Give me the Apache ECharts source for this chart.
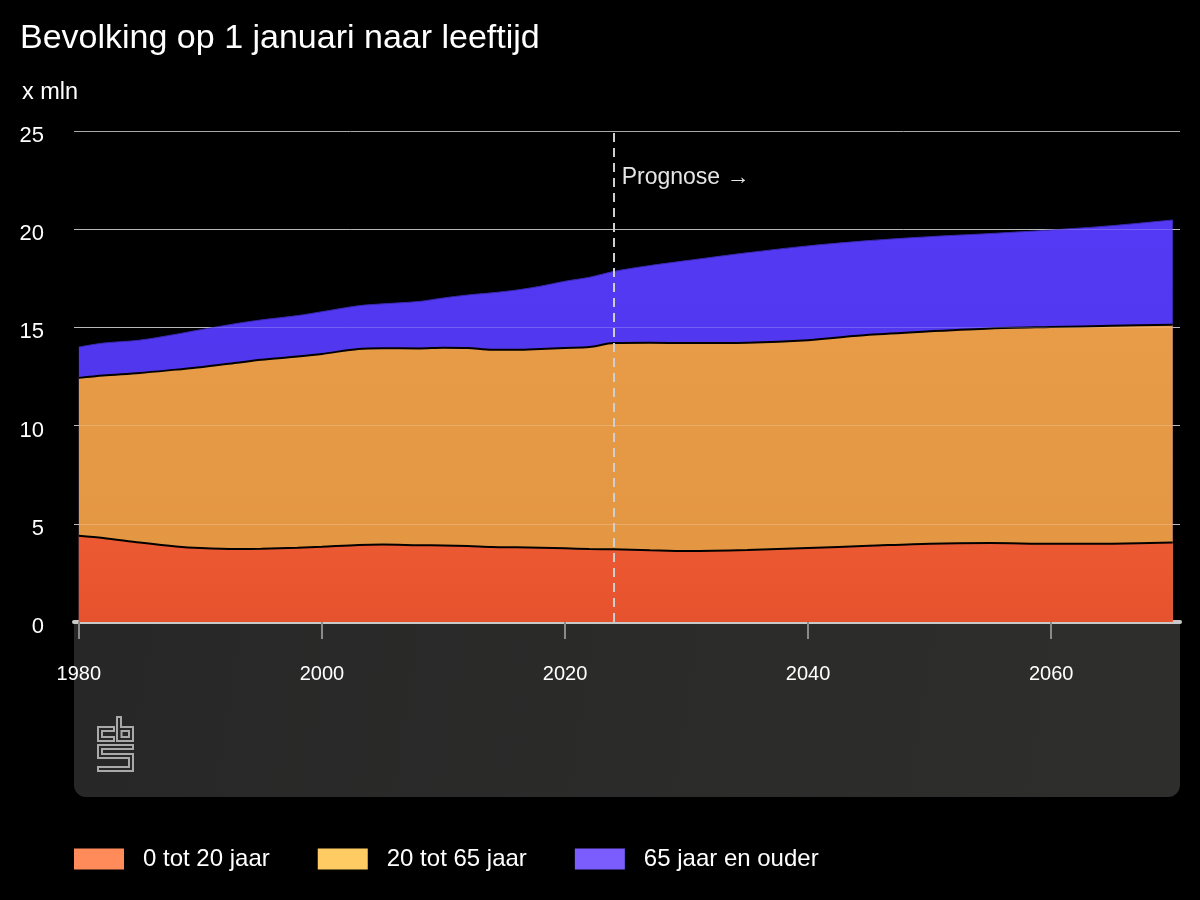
<!DOCTYPE html>
<html>
<head>
<meta charset="utf-8">
<script src="https://cdn.jsdelivr.net/npm/echarts@6/dist/echarts.min.js"></script>
<style>
html,body{margin:0;padding:0;background:#000;}
#chart{width:1200px;height:900px;}
</style>
</head>
<body>
<div id="chart"></div>
<script>
// ---- data (x mln) ----
const years = [1980,1982,1985,1988,1990,1993,1995,1998,2000,2003,2005,2008,2010,2012,2014,2016,2018,2020,2022,2024,2027,2030,2035,2040,2045,2050,2055,2060,2065,2070];
const age0to20 = [4.39,4.28,4.05,3.85,3.77,3.72,3.73,3.78,3.83,3.92,3.94,3.91,3.90,3.87,3.82,3.80,3.78,3.75,3.72,3.70,3.65,3.61,3.66,3.77,3.88,3.99,4.02,3.98,3.99,4.05];
const age20to65 = [8.04,8.27,8.63,9.00,9.20,9.48,9.62,9.74,9.82,9.98,10.00,10.02,10.07,10.08,10.04,10.06,10.12,10.20,10.28,10.50,10.57,10.59,10.56,10.58,10.74,10.81,10.93,11.04,11.09,11.09];
const age65plus = [1.57,1.65,1.67,1.80,1.91,2.00,2.03,2.08,2.15,2.20,2.26,2.39,2.53,2.70,2.90,3.04,3.20,3.40,3.55,3.65,3.93,4.20,4.58,4.80,4.80,4.82,4.83,4.94,5.10,5.33];
const seriesNames = ['0 tot 20 jaar','20 tot 65 jaar','65 jaar en ouder'];
const xTickYears = [1980,2000,2020,2040,2060];
const prognoseYear = 2024;

const FONT = '"Liberation Sans", Arial, Helvetica, sans-serif';
const chart = echarts.init(document.getElementById('chart'), null, {renderer:'canvas'});

// stacked (cumulative) tops, drawn as overlapping areas from 0
const groups = [age0to20, age20to65, age65plus];
function stackedPairs(level){
  return years.map((y,i)=>{
    let s = 0;
    for(let k=0;k<=level;k++) s += groups[k][i];
    return [y, +s.toFixed(3)];
  });
}
function grad(a,b){ return new echarts.graphic.LinearGradient(0,0,0,1,[{offset:0,color:a},{offset:1,color:b}]); }

const logoStroke = {stroke:'#a9a9a9', lineWidth:2, fill:null};
const overlay = {color:'rgba(255,255,255,0.2)', width:1, type:'solid'};

const option = {
  backgroundColor:'#000',
  animation:false,
  textStyle:{fontFamily:FONT},
  title:[
    {text:'Bevolking op 1 januari naar leeftijd', left:15, top:17, textStyle:{color:'#fff', fontSize:34, fontWeight:'normal', fontFamily:FONT}},
    {text:'x mln', left:17, top:76, textStyle:{color:'#fff', fontSize:23.5, fontWeight:'normal', fontFamily:FONT}}
  ],
  grid:{left:74, right:20, top:131, bottom:278, containLabel:false},
  xAxis:{
    type:'value', min:1979.6, max:2070.6,
    axisLine:{show:true, lineStyle:{color:'#c8c8c8', width:4}},
    axisTick:{show:true, customValues:xTickYears, length:17, lineStyle:{color:'#8a8a8a', width:2}},
    axisLabel:{customValues:xTickYears, color:'#fff', fontSize:20, margin:42, fontFamily:FONT, formatter:v=>String(v)},
    splitLine:{show:false}
  },
  yAxis:{
    type:'value', min:0, max:25, interval:5,
    axisLine:{show:false}, axisTick:{show:false},
    axisLabel:{color:'#fff', fontSize:22, margin:30, fontFamily:FONT,
      formatter:v=>'{a|'+v+'}',
      rich:{a:{color:'#fff', fontSize:22, fontFamily:FONT, padding:[10,0,0,0]}}},
    splitLine:{show:true, lineStyle:{color:'#a8a8a8', width:1}}
  },
  legend:{
    data:seriesNames.map((n,i)=>({name:n, itemStyle:{color:['#ff8a5a','#ffcb62','#7b5cfd'][i], borderWidth:0}})),
    left:74, top:847, padding:0, itemGap:48,
    icon:'rect', itemWidth:50, itemHeight:21,
    selectedMode:false,
    textStyle:{color:'#fff', fontSize:24, fontFamily:FONT, padding:[0,0,0,14]}
  },
  graphic:[
    {type:'rect', z:-10, shape:{x:74, y:622, width:1106, height:175, r:[0,0,12,12]},
      style:{fill:new echarts.graphic.LinearGradient(0,0,1,1,[{offset:0,color:'#272727'},{offset:1,color:'#2e2f2d'}])}},
    {type:'polygon', z:5, shape:{points:[[98,727],[114,727],[114,731],[102,731],[102,737],[114,737],[114,741],[98,741]]}, style:logoStroke},
    {type:'polygon', z:5, shape:{points:[[117,717],[121,717],[121,727],[133,727],[133,741],[117,741]]}, style:logoStroke},
    {type:'rect', z:5, shape:{x:121.5, y:731, width:7.5, height:6}, style:logoStroke},
    {type:'polygon', z:5, shape:{points:[[98,745],[133,745],[133,749],[102,749],[102,754],[133,754],[133,771],[98,771],[98,767],[129,767],[129,758],[98,758]]}, style:logoStroke}
  ],
  series:[
    {
      name:seriesNames[0], type:'line', z:6, smooth:0.3, symbol:'none',
      data:stackedPairs(0),
      lineStyle:{color:'#000', width:2},
      areaStyle:{color:grad('#ec5a33','#e6522d'), opacity:1},
      itemStyle:{color:'#ff8a5a'},
      markLine:{
        z:20, silent:true, symbol:['none','none'], animation:false,
        data:[
          {yAxis:5, lineStyle:overlay, label:{show:false}},
          {yAxis:10, lineStyle:overlay, label:{show:false}},
          {yAxis:15, lineStyle:overlay, label:{show:false}},
          {yAxis:20, lineStyle:overlay, label:{show:false}},
          {xAxis:prognoseYear, lineStyle:{color:'#cfcfcf', width:2, type:[9,6]}, label:{show:false}}
        ]
      }
    },
    {
      name:seriesNames[1], type:'line', z:5, smooth:0.3, symbol:'none',
      data:stackedPairs(1),
      lineStyle:{color:'#000', width:2},
      areaStyle:{color:grad('#e89c47','#e39542'), opacity:1},
      itemStyle:{color:'#ffcb62'}
    },
    {
      name:seriesNames[2], type:'line', z:4, smooth:0.3, symbol:'none',
      data:stackedPairs(2),
      lineStyle:{color:'#3a2ab0', width:1},
      areaStyle:{color:grad('#553af5','#4831e0'), opacity:1},
      itemStyle:{color:'#7b5cfd'}
    }
  ]
};
chart.setOption(option);
const px = chart.convertToPixel({xAxisIndex:0}, prognoseYear);
chart.setOption({graphic:option.graphic.concat([
  {type:'text', z:10, left:px + 8, top:166, style:{text:'Prognose \u2192', fill:'#e6e6e6', fontSize:23, fontFamily:FONT}}
])});
</script>
</body>
</html>
